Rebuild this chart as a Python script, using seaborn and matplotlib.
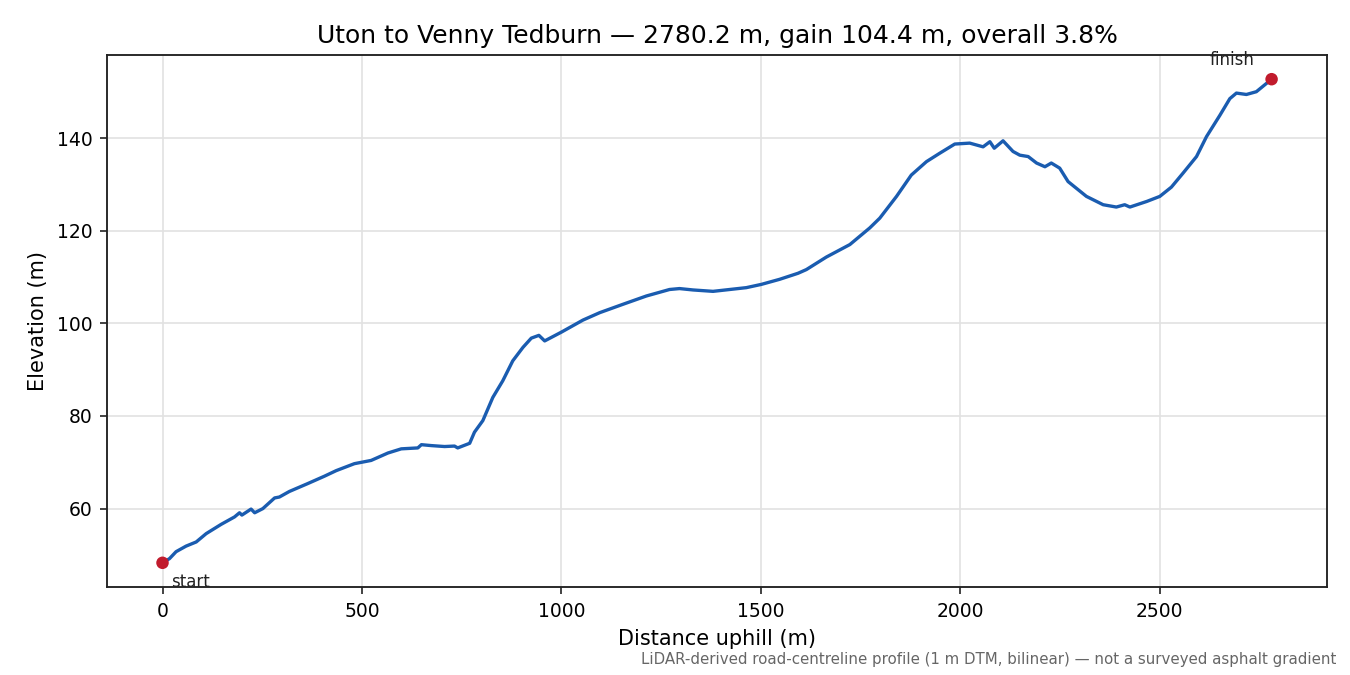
import matplotlib
matplotlib.use("Agg")
import matplotlib.pyplot as plt
import seaborn as sns
import pandas as pd

distance_m = [0, 17.5, 34, 59, 84.5, 109.5, 147, 180.5, 193, 199, 222, 231, 251.5, 281, 293,
              318, 364, 406, 435.5, 481, 523, 565, 598.5, 640, 649, 674, 707, 732, 740, 770,
              782, 803, 828, 853, 878, 903.5, 924.5, 943.5, 958, 1000, 1054, 1096, 1154, 1213,
              1271, 1296, 1330, 1380, 1463.5, 1501, 1547, 1593, 1614, 1664, 1723, 1773, 1798,
              1840, 1877, 1915, 1948, 1986, 2023.5, 2057, 2074, 2085, 2107, 2132, 2149, 2170,
              2191, 2212, 2228, 2249, 2270, 2316, 2358, 2391, 2412, 2425, 2467, 2500, 2529,
              2558, 2592, 2617, 2650.5, 2675.5, 2692, 2717, 2742, 2767.5, 2780.2]
elevation_m = [48.3, 49.2, 50.7, 51.9, 52.8, 54.6, 56.6, 58.2, 59.1, 58.6, 59.9, 59.1, 60.0, 62.3, 62.5,
               63.7, 65.4, 67.0, 68.2, 69.7, 70.4, 72.0, 72.9, 73.1, 73.8, 73.6, 73.4, 73.5, 73.1, 74.1,
               76.5, 79.0, 84.0, 87.6, 91.9, 94.8, 96.8, 97.4, 96.2, 98.1, 100.7, 102.3, 104.1, 105.9,
               107.3, 107.5, 107.2, 106.9, 107.7, 108.4, 109.5, 110.8, 111.6, 114.3, 117.0, 120.6, 122.7,
               127.4, 132.0, 134.9, 136.7, 138.7, 138.9, 138.1, 139.2, 137.8, 139.4, 137.1, 136.3, 136.0,
               134.6, 133.8, 134.6, 133.5, 130.6, 127.4, 125.6, 125.1, 125.6, 125.1, 126.3, 127.4, 129.4,
               132.4, 136.0, 140.3, 144.9, 148.5, 149.7, 149.4, 150.0, 151.8, 152.7]

endpoint_labels = ["start", "finish"]
title_text = "Uton to Venny Tedburn \u2014 2780.2 m, gain 104.4 m, overall 3.8%"
footnote_text = "LiDAR-derived road-centreline profile (1 m DTM, bilinear) \u2014 not a surveyed asphalt gradient"

df = pd.DataFrame({"distance": distance_m, "elevation": elevation_m})
ends = pd.DataFrame({"distance": [distance_m[0], distance_m[-1]],
                     "elevation": [elevation_m[0], elevation_m[-1]],
                     "label": endpoint_labels})

sns.set_style("ticks")
plt.rcParams["font.family"] = ["DejaVu Sans"]
plt.rcParams["text.color"] = "black"
plt.rcParams["axes.labelcolor"] = "black"

fig, ax = plt.subplots(figsize=(9, 4.5), dpi=150)
fig.subplots_adjust(left=0.0793, right=0.983, top=0.9185, bottom=0.1304)

sns.lineplot(data=df, x="distance", y="elevation", ax=ax, color="#1a5cb0", linewidth=1.6)
sns.scatterplot(data=ends, x="distance", y="elevation", ax=ax, color="#c11b2d", s=36,
                edgecolor="none", zorder=5)

ax.annotate(ends["label"][0], (ends["distance"][0], ends["elevation"][0]),
            xytext=(4, -5), textcoords="offset points", ha="left", va="top", fontsize=8,
            color="#222222")
ax.annotate(ends["label"][1], (ends["distance"][1], ends["elevation"][1]),
            xytext=(-8, 5), textcoords="offset points", ha="right", va="bottom", fontsize=8,
            color="#222222")

ax.grid(True, color="#e2e2e2", linewidth=0.8)
ax.set_axisbelow(True)
for sp in ax.spines.values():
    sp.set_color("#222222")
    sp.set_linewidth(0.9)
ax.tick_params(labelsize=9, colors="#222222", labelcolor="black")
ax.set_xlabel("Distance uphill (m)", fontsize=10, color="black")
ax.set_ylabel("Elevation (m)", fontsize=10, color="black")
ax.set_title(title_text, fontsize=12, color="black")
ax.margins(x=0.05, y=0.05)

fig.text(0.99, 0.012, footnote_text, ha="right", va="bottom", fontsize=7.2, color="#666666")

fig.savefig("out.png", dpi=150)
